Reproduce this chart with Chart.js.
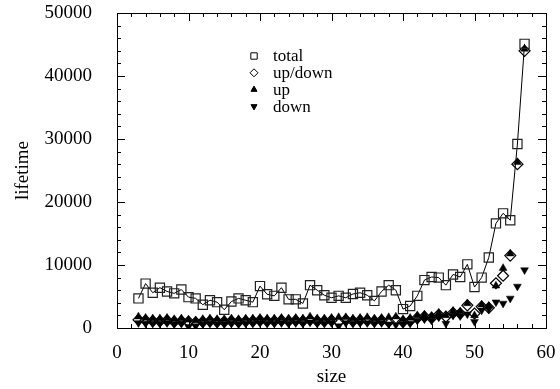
<!DOCTYPE html>
<html>
<head>
<meta charset="utf-8">
<script src="https://cdn.jsdelivr.net/npm/chart.js@4"></script>
<style>
  html, body { margin: 0; padding: 0; background: #fff; }
  #wrap { width: 560px; height: 389px; }
</style>
</head>
<body>
<div id="wrap"><canvas id="chart"></canvas></div>
<script>
// values
const sizes = [3, 4, 5, 6, 7, 8, 9, 10, 11, 12, 13, 14, 15, 16, 17, 18, 19, 20, 21, 22, 23, 24, 25, 26, 27, 28, 29, 30,
  31, 32, 33, 34, 35, 36, 37, 38, 39, 40, 41, 42, 43, 44, 45, 46, 47, 48, 49, 50, 51, 52, 53, 54, 55, 56, 57];

const totalVals = [4700, 7050, 5600, 6400, 5800, 5500, 6100, 4900, 4700, 3700, 4400, 4100, 2900, 4200, 4700, 4400,
  4100, 6650, 5350, 5100, 6400, 4550, 4550, 3900, 6800, 6000, 5200, 4800, 5100, 4800, 5400, 5600, 5200, 4300, 5800,
  6800, 6000, 3000, 3500, 5100, 7600, 8100, 8000, 6800, 8500, 8100, 10100, 6500, 8000, 11200, 16600, 18200, 17100,
  29200, 45100];

const upDownVals = [1300, 1200, 1100, 1100, 1200, 1000, 1100, 1000, 900, 1000, 1100, 1000, 1000, 1100, 1000, 1100,
  1100, 1200, 1100, 1100, 1200, 1100, 1200, 1100, 1300, 1100, 1100, 1200, 1000, 1300, 1100, 1200, 1200, 1100, 1200,
  1000, 1300, 1000, 1150, 1600, 1800, 1600, 2100, 1800, 2400, 2300, 3600, 2300, 3400, 3200, 7100, 8300, 11500,
  26000, 44000];

const upVals = [1800, 1600, 1500, 1500, 1600, 1400, 1500, 1300, 1200, 1400, 1500, 1400, 1400, 1500, 1400, 1500,
  1500, 1600, 1500, 1500, 1600, 1500, 1600, 1500, 1800, 1500, 1500, 1600, 1700, 1700, 1500, 1600, 1700, 1500, 1600,
  1700, 1800, 1400, 1600, 2000, 2100, 1900, 2400, 2000, 2700, 2600, 3900, 2000, 3700, 3500, 6700, 9500, 11800,
  26300, 44300];

const downVals = [800, 700, 700, 700, 800, 600, 700, 200, 300, 600, 700, 600, 600, 700, 600, 700, 700, 800, 700,
  700, 800, 700, 800, 700, 900, 700, 700, 800, 300, 800, 700, 800, 800, 700, 800, 600, 500, 600, 700, 1200, 1400,
  1200, 1700, 700, 2000, 1900, 2200, 1000, 2800, 3000, 4100, 3900, 4700, 6600, 9200];

const seriesNames = ['total', 'up/down', 'up', 'down'];
const xTicks = [0, 10, 20, 30, 40, 50, 60];
const yTicks = [0, 10000, 20000, 30000, 40000, 50000];

const FONT = 'Liberation Serif, Times New Roman, serif';
const pts = vals => vals.map((v, i) => ({ x: sizes[i], y: v }));

// frame and inward tick marks on all four sides, gnuplot style
const framePlugin = {
  id: 'frame',
  afterDatasetsDraw(chart) {
    const { ctx, chartArea: a, scales: { x, y } } = chart;
    ctx.save();
    ctx.strokeStyle = '#000';
    ctx.lineWidth = 1;
    ctx.beginPath();
    for (let v = 2; v < 60; v += 2) {
      const px = Math.round(x.getPixelForValue(v)) + 0.5;
      const len = v % 10 === 0 ? 8 : 4;
      ctx.moveTo(px, a.bottom); ctx.lineTo(px, a.bottom - len);
      ctx.moveTo(px, a.top); ctx.lineTo(px, a.top + len);
    }
    for (let v = 2000; v < 50000; v += 2000) {
      const py = Math.round(y.getPixelForValue(v)) + 0.5;
      const len = v % 10000 === 0 ? 8 : 4;
      ctx.moveTo(a.left, py); ctx.lineTo(a.left + len, py);
      ctx.moveTo(a.right, py); ctx.lineTo(a.right - len, py);
    }
    ctx.stroke();
    ctx.strokeRect(Math.round(a.left) + 0.5, Math.round(a.top) + 0.5,
      Math.round(a.right - a.left), Math.round(a.bottom - a.top));
    ctx.restore();
  }
};

// small key inside the plot, like the original
const keyPlugin = {
  id: 'key',
  afterDatasetsDraw(chart) {
    const { ctx } = chart;
    ctx.save();
    ctx.font = '17px ' + FONT;
    ctx.textBaseline = 'middle';
    chart.data.datasets.forEach((ds, i) => {
      const yy = 56 + i * 16.8;
      ctx.strokeStyle = '#000';
      ctx.fillStyle = ds.pointBackgroundColor;
      ctx.lineWidth = 1;
      Chart.helpers.drawPoint(ctx, {
        pointStyle: ds.pointStyle, rotation: ds.pointRotation || 0,
        radius: ds.keyRadius, borderWidth: 1
      }, 254, yy);
      ctx.fillStyle = '#000';
      ctx.fillText(ds.label, 273, yy + 1);
    });
    ctx.restore();
  }
};

new Chart(document.getElementById('chart'), {
  type: 'scatter',
  data: {
    datasets: [
      { label: seriesNames[0], data: pts(totalVals), showLine: true, borderColor: '#000', borderWidth: 1,
        pointStyle: 'rect', pointRadius: 6.5, pointBorderColor: '#222', pointBackgroundColor: 'rgba(0,0,0,0)',
        pointBorderWidth: 1.2, keyRadius: 4.5 },
      { label: seriesNames[1], data: pts(upDownVals), pointStyle: 'rectRot', pointRadius: 5.5,
        pointBorderColor: '#000', pointBackgroundColor: 'rgba(0,0,0,0)', pointBorderWidth: 1.2, keyRadius: 4 },
      { label: seriesNames[2], data: pts(upVals), pointStyle: 'triangle', pointRadius: 4.5,
        pointBorderColor: '#000', pointBackgroundColor: '#000', pointBorderWidth: 0.5, keyRadius: 3.5 },
      { label: seriesNames[3], data: pts(downVals), pointStyle: 'triangle', pointRotation: 180, pointRadius: 4.5,
        pointBorderColor: '#000', pointBackgroundColor: '#000', pointBorderWidth: 0.5, keyRadius: 3.5 }
    ]
  },
  options: {
    responsive: true,
    maintainAspectRatio: false,
    animation: false,
    layout: { padding: { top: 13, right: 14, left: 0, bottom: 0 } },
    plugins: { legend: { display: false }, tooltip: { enabled: false } },
    scales: {
      x: {
        type: 'linear', min: 0, max: 60,
        afterBuildTicks: s => { s.ticks = xTicks.map(v => ({ value: v })); },
        afterFit: s => { s.height = 61; s.paddingLeft = 0; s.paddingRight = 0; },
        grid: { display: false }, border: { display: false },
        ticks: { color: '#000', padding: 6, font: { family: FONT, size: 19 } },
        title: { display: true, text: 'size', color: '#000', padding: { top: 0, bottom: 1 }, font: { family: FONT, size: 19 } }
      },
      y: {
        type: 'linear', min: 0, max: 50000,
        afterBuildTicks: s => { s.ticks = yTicks.map(v => ({ value: v })); },
        afterFit: s => { s.width = 117; s.paddingTop = 0; s.paddingBottom = 0; },
        grid: { display: false }, border: { display: false },
        ticks: { color: '#000', padding: 17, font: { family: FONT, size: 19 }, callback: v => String(v) },
        title: { display: true, text: 'lifetime', color: '#000', padding: { top: 12, bottom: 0 }, font: { family: FONT, size: 19 } }
      }
    }
  },
  plugins: [framePlugin, keyPlugin]
});
</script>
</body>
</html>
